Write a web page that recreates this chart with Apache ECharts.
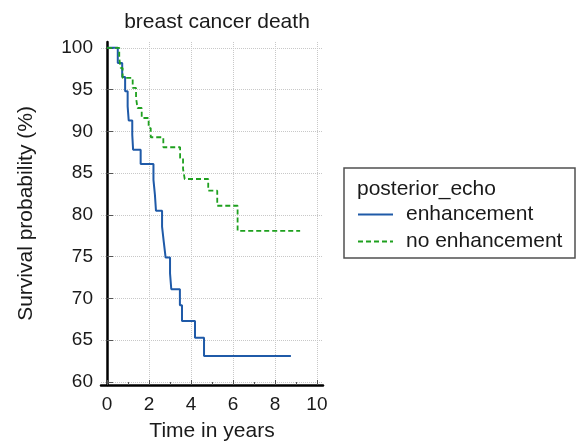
<!DOCTYPE html>
<html>
<head>
<meta charset="utf-8">
<script src="https://cdn.jsdelivr.net/npm/echarts@6/dist/echarts.min.js"></script>
<style>
  html, body { margin: 0; padding: 0; background: #fff; }
  #chart { width: 576px; height: 448px; }
</style>
</head>
<body>
<div id="chart"></div>
<script>
// Kaplan-Meier steps (time in years, survival %)
var enhTime = [0, 0.51, 0.72, 0.86, 0.98, 1.03, 1.20, 1.24, 1.60, 2.21, 2.28, 2.33, 2.62, 2.70, 2.79, 3.00, 3.06, 3.47, 3.57, 4.19, 4.62, 8.76];
var enhSurv = [100, 98.2, 96.5, 94.8, 93.0, 91.3, 89.6, 87.8, 86.1, 84.2, 82.4, 80.5, 78.6, 76.8, 74.9, 73.0, 71.1, 69.2, 67.3, 65.3, 63.1, 63.1];

var noEnhTime = [0, 0.58, 0.64, 0.74, 1.22, 1.38, 1.45, 1.65, 1.98, 2.08, 2.68, 3.48, 3.62, 3.70, 4.82, 5.25, 6.22, 9.20];
var noEnhSurv = [100, 98.8, 97.6, 96.4, 95.2, 94.0, 92.8, 91.6, 90.4, 89.3, 88.1, 86.8, 85.5, 84.3, 82.9, 81.1, 78.1, 78.1];

var seriesNames = ['enhancement', 'no enhancement'];
var xTicks = [0, 2, 4, 6, 8, 10];
var xMinorTicks = [1, 3, 5, 7, 9];
var yTicks = [60, 65, 70, 75, 80, 85, 90, 95, 100];

function pairs(t, v) {
    var out = [];
    for (var i = 0; i < t.length; i++) {
        out.push([t[i], v[i]]);
    }
    return out;
}

var font = 'Liberation Sans, Arial, sans-serif';
var gridLine = { show: true, lineStyle: { color: '#c8c8c8', type: 'dotted', width: 1 } };

var option = {
    animation: false,
    title: [{
        text: 'breast cancer death',
        left: 212, top: 7, textAlign: 'center',
        textStyle: { fontFamily: font, fontSize: 21, fontWeight: 'normal', color: '#1a1a1a' }
    }, {
        text: 'posterior_echo',
        left: 352, top: 174,
        textStyle: { fontFamily: font, fontSize: 21, fontWeight: 'normal', color: '#1a1a1a' }
    }],
    grid: { left: 101, top: 42, width: 222, height: 343, containLabel: false },
    legend: {
        orient: 'vertical',
        left: 352, top: 199,
        itemWidth: 35, itemHeight: 14, itemGap: 6,
        data: seriesNames,
        itemStyle: { opacity: 0 },
        textStyle: { fontFamily: font, fontSize: 21, lineHeight: 21, color: '#1a1a1a', padding: [0, 0, 0, 8] }
    },
    graphic: [{
        type: 'rect',
        shape: { x: 344, y: 168, width: 231, height: 90 },
        style: { fill: 'none', stroke: '#505050', lineWidth: 1.5 }
    }],
    xAxis: [{
        type: 'value',
        min: -0.29, max: 10.29,
        name: 'Time in years',
        nameLocation: 'middle', nameGap: 36,
        nameTextStyle: { fontFamily: font, fontSize: 21, color: '#1a1a1a' },
        axisLine: { lineStyle: { color: '#000', width: 2.5 } },
        axisTick: { inside: true, length: 5, customValues: xTicks, lineStyle: { color: '#555' } },
        axisLabel: { customValues: xTicks, margin: 10, fontFamily: font, fontSize: 19, color: '#1a1a1a' },
        splitLine: gridLine
    }, {
        type: 'value',
        position: 'bottom',
        min: -0.29, max: 10.29,
        axisLine: { show: false },
        axisTick: { inside: true, length: 3, customValues: xMinorTicks, lineStyle: { color: '#555' } },
        axisLabel: { show: false },
        splitLine: { show: false }
    }],
    yAxis: [{
        type: 'value',
        min: 59.64, max: 100.7,
        name: 'Survival probability (%)',
        nameLocation: 'middle', nameGap: 64,
        nameTextStyle: { fontFamily: font, fontSize: 21, color: '#1a1a1a' },
        axisLine: { show: true, lineStyle: { color: '#000', width: 2.5 } },
        axisTick: { show: true, inside: true, length: 6, customValues: yTicks, lineStyle: { color: '#555' } },
        axisLabel: { customValues: yTicks, margin: 8, fontFamily: font, fontSize: 19, color: '#1a1a1a' },
        splitLine: gridLine
    }],
    series: [{
        name: seriesNames[0],
        type: 'line',
        step: 'end',
        symbol: 'none',
        data: pairs(enhTime, enhSurv),
        itemStyle: { color: '#1f5aa8' },
        lineStyle: { color: '#1f5aa8', width: 2 },
        z: 3
    }, {
        name: seriesNames[1],
        type: 'line',
        step: 'end',
        symbol: 'none',
        data: pairs(noEnhTime, noEnhSurv),
        itemStyle: { color: '#1ea01e' },
        lineStyle: { color: '#1ea01e', width: 1.8, type: [5, 3] },
        z: 4
    }]
};

var chart = echarts.init(document.getElementById('chart'));
chart.setOption(option);
</script>
</body>
</html>
